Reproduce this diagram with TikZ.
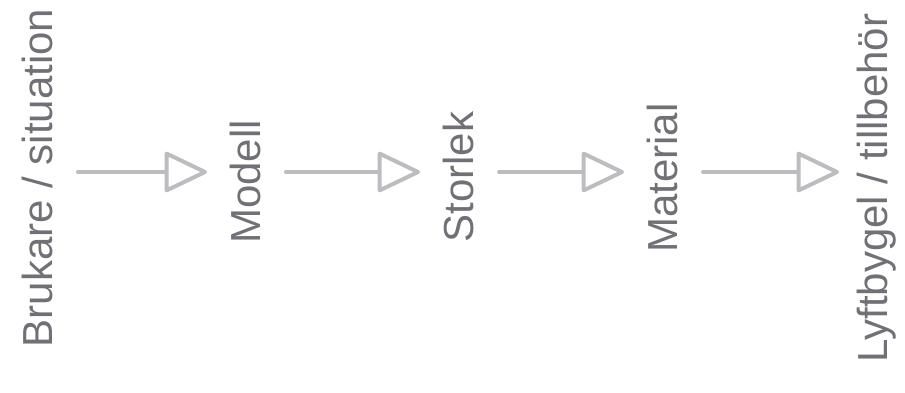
\documentclass[tikz,border=0pt]{standalone}
\usepackage{fontspec}
\setmainfont{Liberation Sans}
\usetikzlibrary{arrows.meta}
\definecolor{textgray}{RGB}{112,112,118}
\definecolor{arrowgray}{RGB}{188,188,193}
\begin{document}
\begin{tikzpicture}[x=1pt,y=1pt,
  label/.style={rotate=90, inner sep=0pt, text=textgray, font=\fontsize{42}{48}\selectfont},
  flow/.style={draw=arrowgray, line width=4pt, line cap=round, shorten <=41pt, shorten >=38pt,
    -{Triangle[open, length=45pt, width=42pt, line join=round]}}]
\useasboundingbox (0,0) rectangle (905,392);
\coordinate (row) at (0,220);
\node[label] (bruk) at (37,214) {Brukare / situation};
\node[label] (mod) at (245,210) {Modell};
\node[label] (stor) at (458,215) {Storlek};
\node[label] (mat) at (662,214) {Material};
\node[label] (lyft) at (877,204) {Lyftbygel / tillbehör};
\draw[flow] (bruk.center |- row) -- (mod.center |- row);
\draw[flow] (mod.center |- row) -- (stor.center |- row);
\draw[flow] (stor.center |- row) -- (mat.center |- row);
\draw[flow] (mat.center |- row) -- (lyft.center |- row);
\end{tikzpicture}
\end{document}
